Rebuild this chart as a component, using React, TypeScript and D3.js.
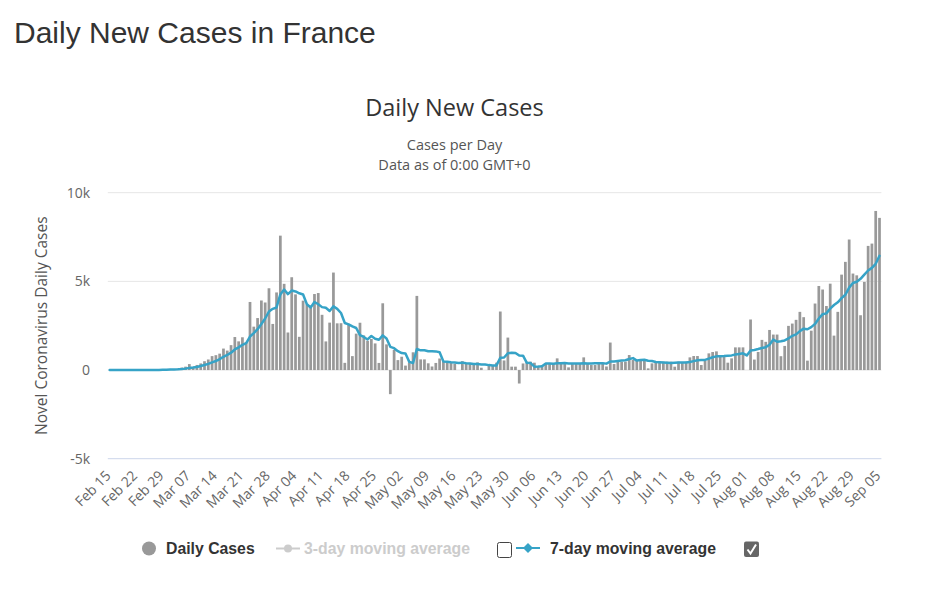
import React from "react";
import * as d3 from "d3";

const startDate = new Date(2020, 1, 15);

const dailyCases = [
  0, 0, 0, 0, 0, 0, 0, 0, 0, 0,
  2, 4, 20, 19, 43,
  30, 61, 21, 73, 138, 190, 336, 177, 286, 372,
  497, 595, 785, 838, 924, 1210, 1097, 1404, 1861, 1617,
  1847, 1559, 3838, 2446, 2931, 3922, 3809, 4611, 2599, 4376,
  7578, 4861, 2116, 5233, 4267, 1873, 3912, 3700, 3600, 4286,
  4342, 3114, 1613, 2673, 5497, 2633, 2641, 405, 2569, 785,
  2051, 2667, 1950, 1650, 1750, 1500, 400, 3764, 1448, -1360,
  1139, 560, 750, 250, 430, 1000, 4180, 600, 600, 380,
  200, 400, 650, 500, 500, 420, 350, 0, 500, 400,
  400, 300, 430, 130, 0, 280, 280, 414, 3300, 540,
  1830, 190, 190, -760, 370, 470, 470, 414, 226, 282,
  376, 338, 376, 658, 376, 338, 150, 338, 338, 376,
  714, 338, 282, 282, 338, 376, 200, 1550, 338, 470,
  470, 470, 846, 564, 564, 564, 564, 94, 376, 470,
  470, 470, 470, 470, 188, 470, 414, 470, 714, 790,
  790, 282, 526, 940, 1015, 1053, 846, 846, 414, 658,
  1278, 1278, 1278, 0, 2850, 590, 1020, 1700, 1590, 2260,
  2000, 2000, 780, 1360, 2490, 2620, 2830, 3280, 2980, 530,
  2220, 3750, 4740, 4540, 3610, 4870, 1940, 3280, 5380, 6100,
  7360, 5440, 5340, 3090, 4970, 7000, 7130, 8970, 8580,
];

const movingAvg7 = [
  0, 0, 0, 0, 0, 0, 0, 0, 0, 0,
  0, 1, 4, 6, 13,
  17, 26, 28, 38, 55, 79, 121, 142, 174, 225,
  285, 350, 435, 507, 614, 746, 849, 979, 1160, 1279,
  1423, 1514, 1889, 2082, 2300, 2594, 2907, 3302, 3451, 3528,
  4261, 4537, 4279, 4482, 4433, 4329, 4263, 3709, 3529, 3839,
  3711, 3547, 3510, 3333, 3589, 3451, 3216, 2654, 2576, 2458,
  2369, 1964, 1867, 1725, 1917, 1765, 1710, 1954, 1780, 1307,
  1234, 1064, 957, 936, 460, 396, 1187, 1110, 1116, 1063,
  1056, 1051, 1001, 476, 461, 436, 431, 403, 417, 381,
  367, 339, 340, 309, 309, 277, 260, 262, 691, 706,
  949, 976, 963, 815, 809, 404, 394, 192, 197, 210,
  373, 368, 355, 381, 376, 392, 373, 368, 368, 368,
  376, 370, 362, 381, 381, 387, 361, 481, 481, 508,
  535, 553, 621, 673, 532, 564, 577, 524, 510, 457,
  443, 430, 416, 403, 416, 430, 422, 422, 457, 502,
  548, 561, 569, 645, 722, 771, 779, 787, 806, 825,
  873, 910, 943, 822, 1108, 1133, 1185, 1245, 1290, 1430,
  1716, 1594, 1621, 1670, 1783, 1930, 2011, 2194, 2334, 2299,
  2421, 2601, 2904, 3149, 3196, 3466, 3667, 3819, 4051, 4246,
  4649, 4910, 4977, 5141, 5383, 5614, 5761, 5991, 6440,
];

const tickLabels = [
  "Feb 15", "Feb 22", "Feb 29", "Mar 07", "Mar 14", "Mar 21", "Mar 28",
  "Apr 04", "Apr 11", "Apr 18", "Apr 25", "May 02", "May 09", "May 16",
  "May 23", "May 30", "Jun 06", "Jun 13", "Jun 20", "Jun 27", "Jul 04",
  "Jul 11", "Jul 18", "Jul 25", "Aug 01", "Aug 08", "Aug 15", "Aug 22",
  "Aug 29", "Sep 05",
];

const yTicks = [-5000, 0, 5000, 10000];
const yTickLabels = ["-5k", "0", "5k", "10k"];

const pageTitle = "Daily New Cases in France";
const chartTitle = "Daily New Cases";
const subtitleLines = ["Cases per Day", "Data as of 0:00 GMT+0"];
const yAxisTitle = "Novel Coronavirus Daily Cases";
const legendNames = ["Daily Cases", "3-day moving average", "7-day moving average"];

const FONT = "'Open Sans', 'DejaVu Sans', sans-serif";
const BAR_COLOR = "#999999";
const LINE_COLOR = "#36a3c7";

export default function App() {
  const W = 926;
  const H = 591;
  const plotLeft = 107.8;
  const plotRight = 881.4;
  const plotTop = 192.7;
  const plotBottom = 458.7;

  const fmt = d3.timeFormat("%b %d");
  const categories = d3
    .timeDay.range(startDate, d3.timeDay.offset(startDate, dailyCases.length))
    .map((d) => fmt(d));

  const x = d3
    .scaleBand<number>()
    .domain(d3.range(dailyCases.length))
    .range([plotLeft, plotRight])
    .paddingInner(0.28)
    .paddingOuter(0.14);
  const bw = x.bandwidth();
  const cx = (i: number) => (x(i) as number) + bw / 2;

  const y = d3.scaleLinear().domain([-5000, 10000]).range([plotBottom, plotTop]);

  const line = d3
    .line<number>()
    .x((_, i) => cx(i))
    .y((v) => y(v));

  const ticks = tickLabels.map((label) => ({ label, i: categories.indexOf(label) }));

  return (
    <svg
      width={W}
      height={H}
      style={{ position: "absolute", left: 0, top: 0, background: "#fff" }}
      xmlns="http://www.w3.org/2000/svg"
    >
      <rect x={0} y={0} width={W} height={H} fill="#fff" />
      <text
        x={14}
        y={43}
        fontFamily="'Liberation Sans', Arial, sans-serif"
        fontSize={30}
        fill="#333"
      >
        {pageTitle}
      </text>

      <text x={454.5} y={116} textAnchor="middle" fontFamily={FONT} fontSize={23.5} fill="#333">
        {chartTitle}
      </text>
      {subtitleLines.map((s, k) => (
        <text
          key={s}
          x={454.5}
          y={150 + k * 20}
          textAnchor="middle"
          fontFamily={FONT}
          fontSize={14.5}
          fill="#555"
        >
          {s}
        </text>
      ))}

      {/* grid lines */}
      {yTicks.map((t) => (
        <line
          key={t}
          x1={plotLeft}
          x2={plotRight}
          y1={y(t)}
          y2={y(t)}
          stroke={t === -5000 ? "#ccd6eb" : "#e6e6e6"}
          strokeWidth={1}
        />
      ))}

      {/* y tick labels */}
      {yTicks.map((t, k) => (
        <text
          key={t}
          x={90}
          y={y(t) + 5}
          textAnchor="end"
          fontFamily={FONT}
          fontSize={14}
          fill="#666"
        >
          {yTickLabels[k]}
        </text>
      ))}

      <text
        transform={`translate(47, ${(plotTop + plotBottom) / 2}) rotate(-90)`}
        textAnchor="middle"
        fontFamily={FONT}
        fontSize={15.5}
        fill="#555"
      >
        {yAxisTitle}
      </text>

      {/* bars */}
      {dailyCases.map((v, i) => (
        <rect
          key={i}
          x={x(i)}
          width={bw}
          y={Math.min(y(v), y(0))}
          height={Math.abs(y(v) - y(0))}
          fill={BAR_COLOR}
        />
      ))}

      {/* 7-day moving average */}
      <path
        d={line(movingAvg7) || ""}
        fill="none"
        stroke={LINE_COLOR}
        strokeWidth={2.5}
        strokeLinejoin="round"
        strokeLinecap="round"
      />

      {/* x tick labels */}
      {ticks.map(({ label, i }) => (
        <text
          key={label}
          transform={`translate(${cx(i) + 2}, ${plotBottom + 18}) rotate(-45)`}
          textAnchor="end"
          fontFamily={FONT}
          fontSize={14}
          fill="#666"
        >
          {label}
        </text>
      ))}

      {/* legend */}
      <g fontFamily="'Liberation Sans', Arial, sans-serif" fontSize={15.8} fontWeight="bold">
        <circle cx={149} cy={548.5} r={7} fill={BAR_COLOR} />
        <text x={166} y={554} fill="#333">
          {legendNames[0]}
        </text>

        <line x1={276} x2={300} y1={548.5} y2={548.5} stroke="#cccccc" strokeWidth={2} />
        <circle cx={288} cy={548.5} r={4} fill="#cccccc" />
        <text x={304} y={554} fill="#cccccc">
          {legendNames[1]}
        </text>
        <rect x={497.5} y={542.5} width={14} height={15} rx={2} fill="#fff" stroke="#444" strokeWidth={1} />

        <line x1={516} x2={540} y1={548} y2={548} stroke={LINE_COLOR} strokeWidth={2} />
        <path d="M528,543 L533,548 L528,553 L523,548 Z" fill={LINE_COLOR} />
        <text x={550} y={554} fill="#333">
          {legendNames[2]}
        </text>
        <rect x={744} y={541.5} width={15} height={15.5} rx={2} fill="#666" />
        <path d="M747.5,549.5 L750.5,553.5 L756,544.5" fill="none" stroke="#fff" strokeWidth={2} />
      </g>
    </svg>
  );
}
